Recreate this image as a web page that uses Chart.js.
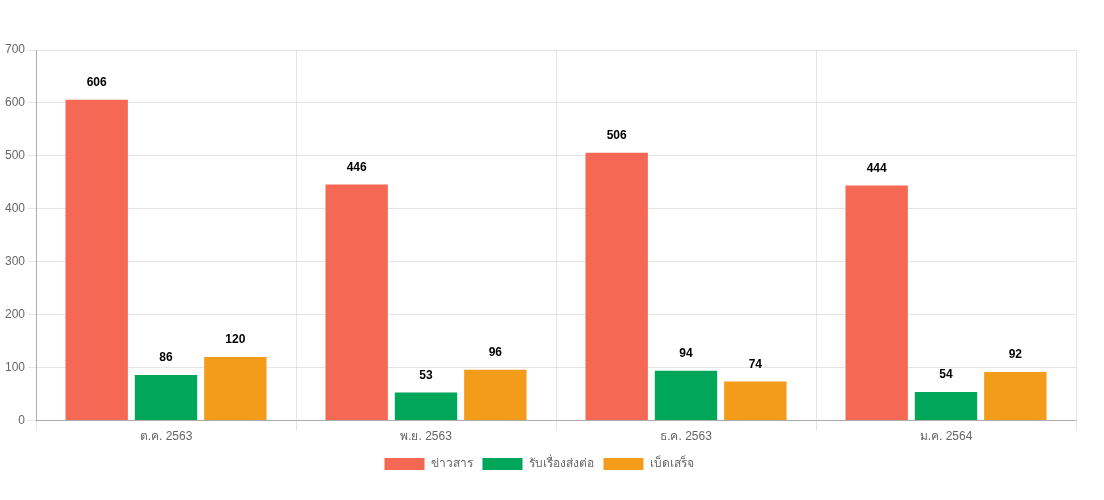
<!DOCTYPE html>
<html><head><meta charset="utf-8">
<script src="https://cdn.jsdelivr.net/npm/chart.js@4/dist/chart.umd.min.js"></script>
<style>html,body{margin:0;padding:0;background:#fff}#wrap{width:1104px;height:500px}</style>
</head><body><div id="wrap"><canvas id="c"></canvas></div>
<script>
const categories = ['ต.ค. 2563', 'พ.ย. 2563', 'ธ.ค. 2563', 'ม.ค. 2564'];
const newsValues = [606, 446, 506, 444];
const forwardValues = [86, 53, 94, 54];
const miscValues = [120, 96, 74, 92];
const seriesNames = ['ข่าวสาร', 'รับเรื่องส่งต่อ', 'เบ็ดเสร็จ'];

const labelPlugin = {
  id: 'barLabels',
  afterDatasetsDraw(chart) {
    const ctx = chart.ctx;
    ctx.save();
    ctx.font = 'bold 12px "Liberation Sans", Arial, sans-serif';
    ctx.fillStyle = '#000';
    ctx.textAlign = 'center';
    ctx.textBaseline = 'middle';
    chart.data.datasets.forEach((ds, i) => {
      chart.getDatasetMeta(i).data.forEach((bar, j) => {
        ctx.fillText(ds.data[j], bar.x, bar.y - 17);
      });
    });
    ctx.restore();
  }
};

Chart.defaults.font.family = '"Liberation Sans", Arial, sans-serif';
Chart.defaults.font.size = 12;
Chart.defaults.color = '#666';

new Chart(document.getElementById('c'), {
  type: 'bar',
  data: {
    labels: categories,
    datasets: [
      { label: seriesNames[0], data: newsValues, backgroundColor: '#f56954' },
      { label: seriesNames[1], data: forwardValues, backgroundColor: '#00a65a' },
      { label: seriesNames[2], data: miscValues, backgroundColor: '#f39c1a' }
    ]
  },
  options: {
    responsive: true,
    maintainAspectRatio: false,
    animation: false,
    layout: { padding: { top: 50, right: 28, left: 2, bottom: 20 } },
    datasets: { bar: { categoryPercentage: 0.8, barPercentage: 0.9 } },
    plugins: {
      legend: {
        position: 'bottom',
        labels: { boxWidth: 40, boxHeight: 12, color: '#666', font: { size: 12 } }
      },
      tooltip: { enabled: false }
    },
    scales: {
      x: {
        grid: { color: 'rgba(0,0,0,0.1)', offset: true, tickLength: 10 },
        border: { color: 'rgba(0,0,0,0.25)' },
        ticks: { color: '#666', padding: -1 },
        afterFit(s) { s.height += 5; }
      },
      y: {
        min: 0, max: 700,
        ticks: { stepSize: 100, color: '#666' },
        border: { color: 'rgba(0,0,0,0.25)' },
        grid: { color: 'rgba(0,0,0,0.1)', tickLength: 8 }
      }
    }
  },
  plugins: [labelPlugin]
});
</script></body></html>
